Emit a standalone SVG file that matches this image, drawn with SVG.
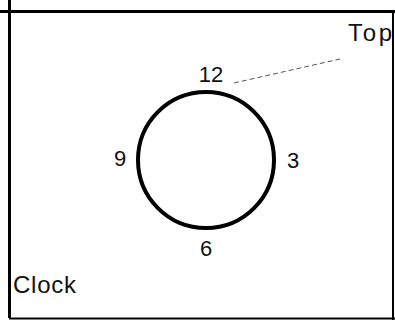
<svg xmlns="http://www.w3.org/2000/svg" width="395" height="320" viewBox="0 0 395 320">
<style>
.t{font-family:"Liberation Sans",Arial,sans-serif;font-size:22px;fill:#111}
.lbl{font-size:24px}
.frame{stroke:#000;fill:none}
</style>
<rect width="395" height="320" fill="#fff"/>
<g id="frame">
<line class="frame" x1="0" y1="11.5" x2="395" y2="11.5" stroke-width="3"/>
<line class="frame" x1="9.5" y1="0" x2="9.5" y2="318" stroke-width="3"/>
<line class="frame" x1="393" y1="11" x2="393" y2="320" stroke-width="2"/>
<line class="frame" x1="9" y1="318.5" x2="395" y2="318.5" stroke-width="2"/>
</g>
<g id="clock">
<circle cx="206" cy="160" r="68" fill="none" stroke="#000" stroke-width="4"/>
<text class="t" x="211" y="82" text-anchor="middle">12</text>
<text class="t" x="293" y="168" text-anchor="middle">3</text>
<text class="t" x="206" y="256" text-anchor="middle">6</text>
<text class="t" x="120" y="166" text-anchor="middle">9</text>
</g>
<g id="connectors">
<line x1="234" y1="83" x2="340" y2="59" stroke="#555" stroke-width="1" stroke-dasharray="5,3"/>
</g>
<g id="top-label">
<text class="t lbl" x="348" y="41" textLength="44">Top</text>
</g>
<g id="clock-label">
<text class="t lbl" x="13" y="293" textLength="63">Clock</text>
</g>
</svg>
